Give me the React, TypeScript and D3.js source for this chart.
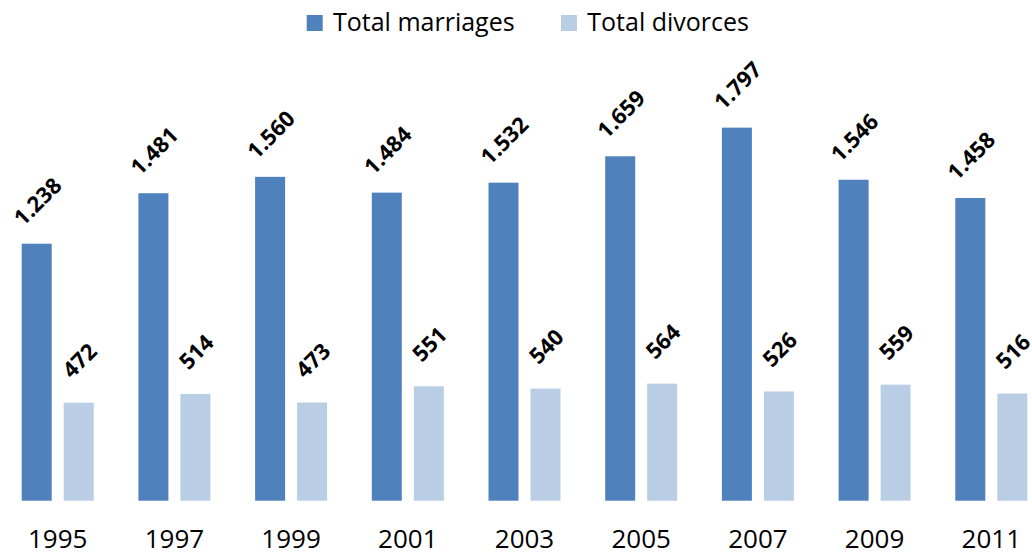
import React from "react";
import * as d3 from "d3";

const years = ["1995", "1997", "1999", "2001", "2003", "2005", "2007", "2009", "2011"];
const marriages = [1238, 1481, 1560, 1484, 1532, 1659, 1797, 1546, 1458];
const divorces = [472, 514, 473, 551, 540, 564, 526, 559, 516];
const seriesNames = ["Total marriages", "Total divorces"];
const seriesColors = ["#4F81BD", "#B9CDE5"];

const W = 1032;
const H = 552;
const FONT = "'Open Sans', 'Noto Sans', sans-serif";

export default function App() {
  const x = d3
    .scaleBand<string>()
    .domain(years)
    .range([-0.65, -0.65 + 9 * 116.7])
    .paddingInner(0.383)
    .paddingOuter(0.1915);
  const inner = d3
    .scaleBand<string>()
    .domain(["m", "d"])
    .range([0, x.bandwidth()])
    .paddingInner(12 / 42)
    .paddingOuter(0);
  const y = d3.scaleLinear().domain([0, 2000]).range([500.7, 500.7 - 2000 * 0.2076]);
  const loc = d3.formatLocale({ decimal: ",", thousands: ".", grouping: [3], currency: ["", "€"] });
  const fmt = loc.format(",");

  const series = [
    { key: "m", values: marriages, color: seriesColors[0] },
    { key: "d", values: divorces, color: seriesColors[1] },
  ];

  const legendX = [306.7, 561];

  return (
    <svg
      width={W}
      height={H}
      style={{ position: "absolute", left: 0, top: 0, background: "#fff" }}
      fontFamily={FONT}
    >
      {series.map((s) =>
        years.map((yr, i) => {
          const bx = (x(yr) as number) + (inner(s.key) as number);
          const bw = inner.bandwidth();
          const top = y(s.values[i]);
          const cx = bx + bw / 2;
          const cy = top - 43;
          return (
            <g key={s.key + yr}>
              <rect x={bx} y={top} width={bw} height={y(0) - top} fill={s.color} />
              <text
                x={cx}
                y={cy}
                transform={`rotate(-45 ${cx} ${cy})`}
                textAnchor="middle"
                dominantBaseline="central"
                fontSize={22}
                fontWeight="bold"
                fill="#000"
              >
                {fmt(s.values[i])}
              </text>
            </g>
          );
        })
      )}
      {years.map((yr) => (
        <text
          key={"lab" + yr}
          x={(x(yr) as number) + x.bandwidth() / 2}
          y={548}
          textAnchor="middle"
          fontSize={26}
          fill="#000"
        >
          {yr}
        </text>
      ))}
      {seriesNames.map((n, i) => (
        <g key={n}>
          <rect x={legendX[i]} y={15} width={16} height={16} fill={seriesColors[i]} />
          <text x={legendX[i] + 26.3} y={31} fontSize={25} fill="#000">
            {n}
          </text>
        </g>
      ))}
    </svg>
  );
}
